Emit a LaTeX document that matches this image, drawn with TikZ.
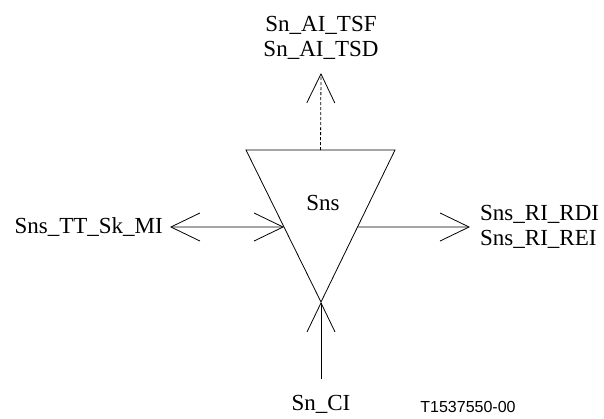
\documentclass[tikz,border=0pt]{standalone}
\usepackage{fontspec}
\setmainfont{Liberation Serif}
\setsansfont{Liberation Sans}
\usetikzlibrary{positioning, calc, arrows.meta}
\tikzset{
  lbl/.style   = {inner sep=0pt, font=\fontsize{23}{25.5}\selectfont},
  wire/.style  = {line width=0.8pt},
  barb/.style  = {wire, -{Straight Barb[length=29pt, width=28pt]}},
  dbarb/.style = {wire, {Straight Barb[length=29pt, width=28pt]}-{Straight Barb[length=29pt, width=28pt]}}
}

\begin{document}
\begin{tikzpicture}[x=1pt, y=-1pt]
  \useasboundingbox (0,0) rectangle (604,418);

  % triangle corners
  \coordinate (tl)   at (246,150);
  \coordinate (tr)   at (395,150);
  \coordinate (apex) at (321,302);
  \draw[wire] (tl) -- (tr) -- (apex) -- cycle;
  \node[lbl] (sns) at (323,203) {Sns};

  % points on the triangle and free ends
  \coordinate (topmid) at ($(tl)!0.5!(tr)$);
  \coordinate (leftin)  at ($(tl)!0.5066!(apex)$);
  \coordinate (rightin) at ($(tr)!0.5066!(apex)$);
  \coordinate (toptip)   at (321,73);
  \coordinate (lefttip)  at (170,227);
  \coordinate (righttip) at (470,227);
  \coordinate (botend)   at (321,379);

  % labels
  \node[lbl, align=center, above=13pt of toptip] (ai) {Sn\_AI\_TSF\\Sn\_AI\_TSD};
  \node[lbl, left=7pt of lefttip] (mi) {Sns\_TT\_Sk\_MI};
  \node[lbl, align=left, right=10pt of righttip] (ri) {Sns\_RI\_RDI\\Sns\_RI\_REI};
  \node[lbl, below=16pt of botend] (ci) {Sn\_CI};
  \node[inner sep=0pt, font=\sffamily\fontsize{16}{18}\selectfont] (code) at (468,407) {T1537550-00};

  % connectors
  \draw[barb, densely dashed] (topmid) -- (toptip);
  \draw[dbarb] (lefttip) -- (leftin);
  \draw[barb] (rightin) -- (righttip);
  \draw[barb] (botend) -- (apex);
\end{tikzpicture}
\end{document}
